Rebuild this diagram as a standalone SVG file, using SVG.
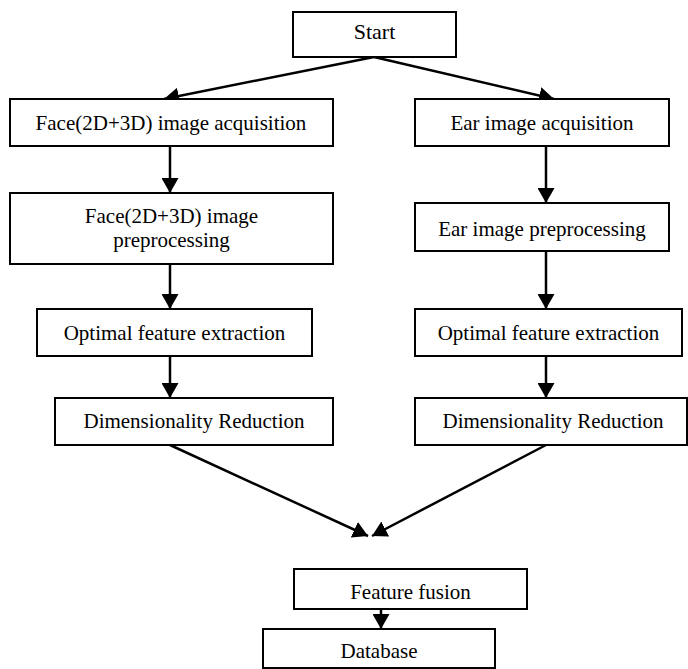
<svg xmlns="http://www.w3.org/2000/svg" width="688" height="669" viewBox="0 0 688 669">
<style>
.box{fill:#fff;stroke:#000;stroke-width:2}
.t{font-family:"Liberation Serif","Times New Roman",serif;font-size:21px;fill:#000;text-anchor:middle}
.c{stroke:#000;stroke-width:2.5;fill:none;marker-end:url(#ah)}
</style>
<defs>
<marker id="ah" markerUnits="userSpaceOnUse" markerWidth="16" markerHeight="17" refX="15" refY="8.5" orient="auto">
<path d="M0,0 L15,8.5 L0,17 z" fill="#000"/>
</marker>
</defs>
<rect width="688" height="669" fill="#fff"/>
<g id="connectors">
<line class="c" x1="374" y1="57" x2="164" y2="99"/>
<line class="c" x1="374" y1="57" x2="554" y2="99"/>
<line class="c" x1="170" y1="146" x2="170" y2="193"/>
<line class="c" x1="546" y1="146" x2="546" y2="203"/>
<line class="c" x1="170" y1="264" x2="170" y2="309"/>
<line class="c" x1="546" y1="251" x2="546" y2="309"/>
<line class="c" x1="170" y1="356" x2="170" y2="398"/>
<line class="c" x1="546" y1="356" x2="546" y2="398"/>
<line class="c" x1="170" y1="445" x2="368" y2="536"/>
<line class="c" x1="546" y1="445" x2="372" y2="536"/>
<line class="c" x1="381" y1="609" x2="381" y2="629"/>
</g>
<g id="start"><rect class="box" x="293" y="12" width="163" height="45"/><text class="t" x="374.5" y="39" style="font-size:22px">Start</text></g>
<g id="face-acq"><rect class="box" x="10" y="99" width="323" height="47"/><text class="t" x="171" y="130">Face(2D+3D) image acquisition</text></g>
<g id="ear-acq"><rect class="box" x="415" y="99" width="254" height="47"/><text class="t" x="542" y="130">Ear image acquisition</text></g>
<g id="face-pre"><rect class="box" x="10" y="193" width="323" height="71"/><text class="t" x="171.5" y="223">Face(2D+3D) image</text><text class="t" x="171.5" y="247">preprocessing</text></g>
<g id="ear-pre"><rect class="box" x="415" y="203" width="254" height="48"/><text class="t" x="542" y="236">Ear image preprocessing</text></g>
<g id="face-opt"><rect class="box" x="37" y="309" width="275" height="47"/><text class="t" x="174.5" y="340">Optimal feature extraction</text></g>
<g id="ear-opt"><rect class="box" x="415" y="309" width="267" height="47"/><text class="t" x="548.5" y="340">Optimal feature extraction</text></g>
<g id="face-dim"><rect class="box" x="55" y="398" width="278" height="47"/><text class="t" x="194" y="428">Dimensionality Reduction</text></g>
<g id="ear-dim"><rect class="box" x="415" y="398" width="272" height="47"/><text class="t" x="553" y="428">Dimensionality Reduction</text></g>
<g id="fusion"><rect class="box" x="294" y="569" width="233" height="40"/><text class="t" x="410.5" y="599">Feature fusion</text></g>
<g id="database"><rect class="box" x="263" y="629" width="232" height="39"/><text class="t" x="379" y="658">Database</text></g>
</svg>
